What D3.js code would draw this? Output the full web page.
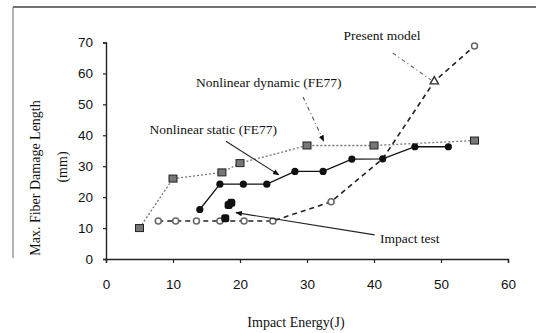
<!DOCTYPE html>
<html>
<head>
<meta charset="utf-8">
<script src="https://cdn.jsdelivr.net/npm/d3@7"></script>
<style>
  body { margin: 0; background: #fff; }
  text { fill: #111; }
</style>
</head>
<body>
<div id="chart"></div>
<script>
// values
const xTicks = [0, 10, 20, 30, 40, 50, 60];
const yTicks = [0, 10, 20, 30, 40, 50, 60, 70];

// Nonlinear dynamic (FE77)
const dynEnergy = [5, 10, 17.3, 20, 30, 40, 55];
const dynLength = [10, 26, 28, 31, 36.7, 36.7, 38.3];

// Nonlinear static (FE77)
const statEnergy = [14, 17, 20.5, 24, 28.2, 32.4, 36.7, 41.3, 46.1, 51.1];
const statLength = [16, 24.2, 24.2, 24.2, 28.3, 28.3, 32.3, 32.4, 36.3, 36.3];

// Present model
const presEnergy = [7.8, 10.4, 13.5, 17, 20.6, 24.9, 33.6, 41.3, 49, 55];
const presLength = [12.3, 12.3, 12.3, 12.3, 12.3, 12.3, 18.5, 32.4, 57.4, 68.9];
const presMarker = ["o", "o", "o", "o", "o", "o", "o", "", "^", "o"];

// Impact test
const impEnergy = [17.8, 18.3, 18.7];
const impLength = [13.2, 17.5, 18.2];

// labels: text, anchor point, leader start, leader end (data units)
const labelText = ["Present model", "Nonlinear dynamic (FE77)", "Nonlinear static (FE77)", "Impact test"];
const labelAt = [[41.2, 72.4], [24.3, 57.2], [16.0, 42.0], [40.9, 6.8]];
const leaderFrom = [[42.8, 66.6], [29.4, 52.4], [17.9, 38.1], [40.1, 7.8]];
const leaderTo = [[48.5, 57.9], [32.5, 38.1], [25.8, 27.2], [19.4, 15.0]];

const W = 536, H = 333;
const svg = d3.select("#chart").append("svg")
    .attr("width", W)
    .attr("height", H);

// frame of the scanned figure
svg.append("line").attr("x1", 13).attr("y1", 7).attr("x2", W).attr("y2", 7)
    .style("stroke", "#444").style("stroke-width", 1.6);
svg.append("line").attr("x1", 13).attr("y1", 7).attr("x2", 13).attr("y2", 258)
    .style("stroke", "#666").style("stroke-width", 1);

var x = d3.scaleLinear().domain([0, 60]).range([106, 508]);
var y = d3.scaleLinear().domain([0, 70]).range([259, 42.5]);

const defs = svg.append("defs");
defs.append("marker")
    .attr("id", "arrow")
    .attr("viewBox", "0 0 10 10")
    .attr("refX", 9).attr("refY", 5)
    .attr("markerWidth", 6).attr("markerHeight", 6)
    .attr("orient", "auto")
    .append("path").attr("d", "M0,1 L10,5 L0,9 Z").style("fill", "#111");

// axes
const xAxis = svg.append("g")
    .attr("transform", "translate(0," + y(0) + ")")
    .call(d3.axisBottom(x).tickValues(xTicks).tickSize(4).tickPadding(16));
const yAxis = svg.append("g")
    .attr("transform", "translate(" + x(0) + ",0)")
    .call(d3.axisLeft(y).tickValues(yTicks).tickSize(3).tickPadding(10));
[xAxis, yAxis].forEach(g => {
    g.select(".domain").style("stroke", "#222").style("stroke-width", 1.4);
    g.selectAll(".tick line").style("stroke", "#222").style("stroke-width", 1.2);
    g.selectAll(".tick text")
        .style("font-family", "'Liberation Sans', Arial, sans-serif")
        .style("font-size", "13.5px")
        .style("fill", "#111");
});

// axis titles
svg.append("text")
    .attr("x", 296).attr("y", 327)
    .attr("text-anchor", "middle")
    .style("font-family", "'Liberation Serif', 'Times New Roman', serif")
    .style("font-size", "14px")
    .text("Impact Energy(J)");
svg.append("text")
    .attr("transform", "translate(40,178) rotate(-90)")
    .attr("text-anchor", "middle")
    .style("font-family", "'Liberation Serif', 'Times New Roman', serif")
    .style("font-size", "14px")
    .text("Max. Fiber Damage Length");
svg.append("text")
    .attr("transform", "translate(67,167) rotate(-90)")
    .attr("text-anchor", "middle")
    .style("font-family", "'Liberation Serif', 'Times New Roman', serif")
    .style("font-size", "14px")
    .text("(mm)");

const line = d3.line().x(d => x(d[0])).y(d => y(d[1]));

// dynamic: dotted grey line with squares
const dyn = dynEnergy.map((e, i) => [e, dynLength[i]]);
svg.append("path").datum(dyn)
    .attr("d", line)
    .style("fill", "none").style("stroke", "#777")
    .style("stroke-width", 1.3).style("stroke-dasharray", "2,2");

// present model: dashed black line
const pres = presEnergy.map((e, i) => [e, presLength[i], presMarker[i]]);
svg.append("path").datum(pres)
    .attr("d", line)
    .style("fill", "none").style("stroke", "#222")
    .style("stroke-width", 1.6).style("stroke-dasharray", "5,4");

// static: solid black line
const stat = statEnergy.map((e, i) => [e, statLength[i]]);
svg.append("path").datum(stat)
    .attr("d", line)
    .style("fill", "none").style("stroke", "#111")
    .style("stroke-width", 1.3);

// markers
svg.selectAll(".dyn").data(dyn).enter().append("rect")
    .attr("class", "dyn")
    .attr("x", d => x(d[0]) - 4).attr("y", d => y(d[1]) - 3.5)
    .attr("width", 8).attr("height", 7)
    .style("fill", "#777").style("stroke", "#222").style("stroke-width", 1);

svg.selectAll(".pres").data(pres.filter(d => d[2] === "o")).enter().append("circle")
    .attr("class", "pres")
    .attr("cx", d => x(d[0])).attr("cy", d => y(d[1])).attr("r", 3)
    .style("fill", "#fff").style("stroke", "#666").style("stroke-width", 1.5);
svg.selectAll(".presT").data(pres.filter(d => d[2] === "^")).enter().append("path")
    .attr("class", "presT")
    .attr("transform", d => "translate(" + x(d[0]) + "," + y(d[1]) + ")")
    .attr("d", d3.symbol(d3.symbolTriangle, 30))
    .style("fill", "#fff").style("stroke", "#333").style("stroke-width", 1.4);

svg.selectAll(".stat").data(stat).enter().append("circle")
    .attr("class", "stat")
    .attr("cx", d => x(d[0])).attr("cy", d => y(d[1])).attr("r", 3.6)
    .style("fill", "#111");

const imp = impEnergy.map((e, i) => [e, impLength[i]]);
svg.selectAll(".imp").data(imp).enter().append("rect")
    .attr("class", "imp")
    .attr("x", d => x(d[0]) - 4).attr("y", d => y(d[1]) - 4)
    .attr("width", 8).attr("height", 8).attr("rx", 2.5)
    .style("fill", "#111");

// labels and leaders
const leaderDash = ["4,3,1,3", "4,3,1,3", null, null];
const leaderColor = ["#666", "#555", "#222", "#222"];
labelText.forEach((t, i) => {
    svg.append("line")
        .attr("x1", x(leaderFrom[i][0])).attr("y1", y(leaderFrom[i][1]))
        .attr("x2", x(leaderTo[i][0])).attr("y2", y(leaderTo[i][1]))
        .style("stroke", leaderColor[i]).style("stroke-width", 1.1)
        .style("stroke-dasharray", leaderDash[i])
        .attr("marker-end", i === 0 ? null : "url(#arrow)");
    svg.append("text")
        .attr("x", x(labelAt[i][0])).attr("y", y(labelAt[i][1]))
        .attr("dy", "0.35em")
        .attr("text-anchor", i === 3 ? "start" : "middle")
        .style("font-family", "'Liberation Serif', 'Times New Roman', serif")
        .style("font-size", "13.5px")
        .text(t);
});
</script>
</body>
</html>
